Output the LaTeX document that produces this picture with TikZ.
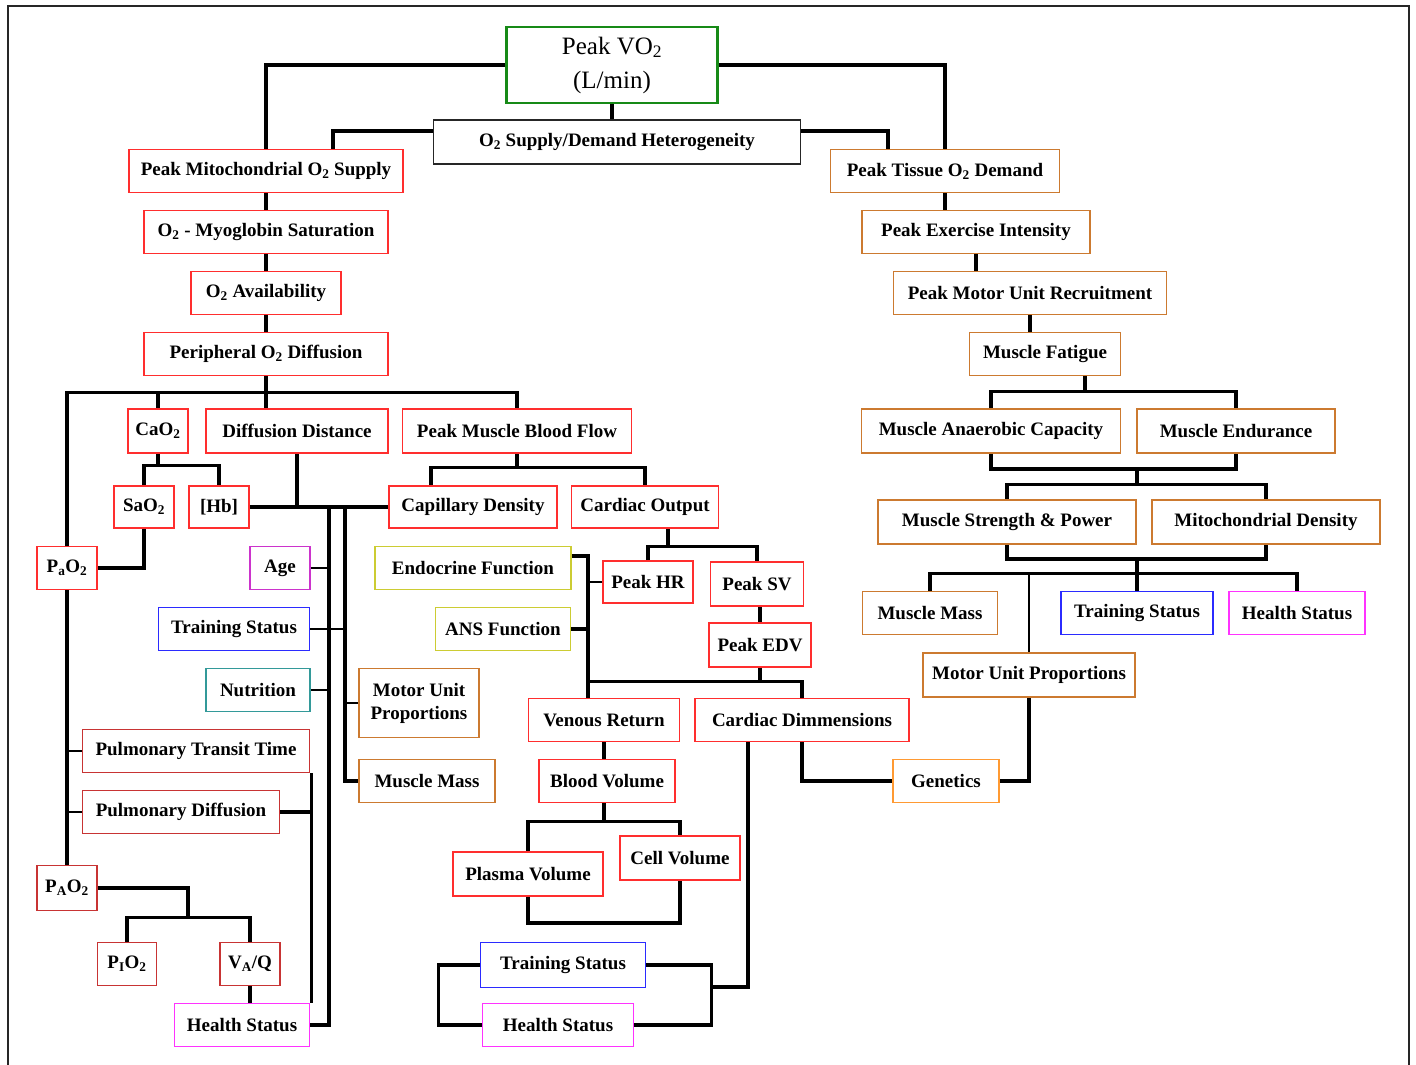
\documentclass[tikz,border=0pt]{standalone}
\usepackage{fontspec}
\setmainfont{Liberation Serif}
\usepackage{tikz}
\usetikzlibrary{positioning}
\definecolor{bred}{HTML}{FF2E2E}
\definecolor{dred}{HTML}{C83434}
\definecolor{borange}{HTML}{CC7A30}
\definecolor{gorange}{HTML}{FF9A33}
\definecolor{ggreen}{HTML}{178A17}
\definecolor{bblue}{HTML}{2B2BFF}
\definecolor{bmag}{HTML}{FF33FF}
\definecolor{bpurp}{HTML}{CC33CC}
\definecolor{bolive}{HTML}{CCCC33}
\definecolor{bteal}{HTML}{339999}
\newcommand{\lbl}{\fontsize{19}{21}\selectfont\bfseries}
\newcommand{\Otwo}{O\textsubscript{2}}

\begin{document}
\begin{tikzpicture}[x=1pt, y=-1pt,
  box/.style={draw, line width=1.8pt, inner sep=0pt, minimum height=43pt, font=\lbl, align=center},
  redbox/.style={box, draw=bred}, dredbox/.style={box, draw=dred},
  orgbox/.style={box, draw=borange}, genbox/.style={box, draw=gorange},
  bluebox/.style={box, draw=bblue}, magbox/.style={box, draw=bmag},
  purpbox/.style={box, draw=bpurp}, olivebox/.style={box, draw=bolive},
  tealbox/.style={box, draw=bteal},
  conn/.style={line width=3.2pt}, tick/.style={line width=1.4pt}]
\useasboundingbox (0,0) rectangle (1416,1065);
\draw[line width=2pt, black!85] (8,1065) -- (8,6) -- (1409,6) -- (1409,1065);

% top
\node[box, draw=ggreen, line width=2.8pt, minimum width=211pt, minimum height=76pt,
  font=\fontsize{25}{34}\selectfont] (vo2) at (612,65) {Peak VO\textsubscript{2}\\(L/min)};
\node[box, draw=black!85, line width=1.5pt, minimum width=367pt, minimum height=44pt] (sd) at (617,142) {\Otwo{} Supply/Demand Heterogeneity};

% supply side
\node[redbox, minimum width=274pt] (mito) at (266,171) {Peak Mitochondrial \Otwo{} Supply};
\node[redbox, minimum width=244pt] (myo) at (266,232) {\Otwo{} - Myoglobin Saturation};
\node[redbox, minimum width=150pt] (avail) at (266,293) {\Otwo{} Availability};
\node[redbox, minimum width=244pt] (perif) at (266,354) {Peripheral \Otwo{} Diffusion};
\node[redbox, minimum width=60pt, minimum height=44pt] (cao2) at (158,431) {CaO\textsubscript{2}};
\node[redbox, minimum width=182pt, minimum height=44pt] (diff) at (297,431) {Diffusion Distance};
\node[redbox, minimum width=229pt, minimum height=44pt] (pmbf) at (517,431) {Peak Muscle Blood Flow};
\node[redbox, minimum width=60pt, minimum height=42pt] (sao2) at (144,507) {SaO\textsubscript{2}};
\node[redbox, minimum width=60pt, minimum height=42pt] (hb) at (219,507) {[Hb]};
\node[redbox, minimum width=168pt, minimum height=42pt] (capd) at (473,507) {Capillary Density};
\node[redbox, minimum width=147pt, minimum height=42pt] (co) at (645,507) {Cardiac Output};
\node[redbox, minimum width=60pt] (pao2) at (67,568) {P\textsubscript{a}O\textsubscript{2}};
\node[purpbox, minimum width=60pt] (age) at (280,568) {Age};
\node[olivebox, minimum width=196pt] (endo) at (473,568) {Endocrine Function};
\node[redbox, minimum width=90pt, minimum height=42pt] (hr) at (648,582) {Peak HR};
\node[redbox, minimum width=93pt, minimum height=44pt] (sv) at (757,584) {Peak SV};
\node[bluebox, minimum width=151pt] (tsL) at (234,629) {Training Status};
\node[olivebox, minimum width=135pt] (ans) at (503,629) {ANS Function};
\node[redbox, minimum width=102pt, minimum height=44pt] (edv) at (760,645) {Peak EDV};
\node[tealbox, minimum width=104pt] (nutr) at (258,690) {Nutrition};
\node[orgbox, minimum width=120pt, minimum height=69pt, font=\fontsize{19}{23}\selectfont\bfseries] (mupL) at (419,703) {Motor Unit\\Proportions};
\node[redbox, minimum width=151pt] (vr) at (604,720) {Venous Return};
\node[redbox, minimum width=214pt] (cdim) at (802,720) {Cardiac Dimmensions};
\node[dredbox, minimum width=227pt] (ptt) at (196,751) {Pulmonary Transit Time};
\node[orgbox, minimum width=136pt] (mmL) at (427,781) {Muscle Mass};
\node[redbox, minimum width=136pt] (bv) at (607,781) {Blood Volume};
\node[genbox, minimum width=106pt] (gen) at (946,781) {Genetics};
\node[dredbox, minimum width=197pt] (pdiff) at (181,812) {Pulmonary Diffusion};
\node[redbox, minimum width=120pt, minimum height=44pt] (cv) at (680,858) {Cell Volume};
\node[redbox, minimum width=150pt, minimum height=44pt] (plv) at (528,874) {Plasma Volume};
\node[dredbox, minimum width=60pt, minimum height=45pt] (pAo2) at (67,888) {P\textsubscript{A}O\textsubscript{2}};
\node[dredbox, minimum width=59pt] (pio2) at (127,964) {P\textsubscript{I}O\textsubscript{2}};
\node[dredbox, minimum width=60pt] (vaq) at (250,964) {V\textsubscript{A}/Q};
\node[magbox, minimum width=135pt] (hsL) at (242,1025) {Health Status};
\node[bluebox, minimum width=165pt, minimum height=45pt] (tsM) at (563,965) {Training Status};
\node[magbox, minimum width=151pt] (hsM) at (558,1025) {Health Status};

% demand side
\node[orgbox, minimum width=229pt] (tissue) at (945,171) {Peak Tissue \Otwo{} Demand};
\node[orgbox, minimum width=228pt] (exer) at (976,232) {Peak Exercise Intensity};
\node[orgbox, minimum width=273pt] (pmur) at (1030,293) {Peak Motor Unit Recruitment};
\node[orgbox, minimum width=151pt] (fatig) at (1045,354) {Muscle Fatigue};
\node[orgbox, minimum width=259pt, minimum height=44pt] (anaer) at (991,431) {Muscle Anaerobic Capacity};
\node[orgbox, minimum width=198pt, minimum height=44pt] (endur) at (1236,431) {Muscle Endurance};
\node[orgbox, minimum width=258pt, minimum height=44pt] (stren) at (1007,522) {Muscle Strength \& Power};
\node[orgbox, minimum width=228pt, minimum height=44pt] (mitod) at (1266,522) {Mitochondrial Density};
\node[orgbox, minimum width=135pt] (mmR) at (930,613) {Muscle Mass};
\node[bluebox, minimum width=152pt] (tsR) at (1137,613) {Training Status};
\node[magbox, minimum width=136pt] (hsR) at (1297,613) {Health Status};
\node[orgbox, minimum width=212pt, minimum height=44pt] (mupR) at (1029,675) {Motor Unit Proportions};

% connectors, top
\draw[conn] (vo2.west) -| (mito.north);
\draw[conn] (vo2.east) -| (tissue.north);
\draw[conn] (vo2.south) -- (vo2.south |- sd.north);
\draw[conn] ([yshift=11pt]sd.west) -| ([xshift=67pt]mito.north);
\draw[conn] ([yshift=11pt]sd.east) -| ([xshift=-57pt]tissue.north);

% supply chain
\draw[conn] (mito.south) -- (myo.north);
\draw[conn] (myo.south) -- (avail.north);
\draw[conn] (avail.south) -- (perif.north);
\draw[conn] (perif.south) -- (perif.south |- diff.north);
\draw[conn] (pao2.north) |- ([yshift=16pt]pmbf.north) -- (pmbf.north);
\draw[conn] (cao2.north) -- ++(0,-16);
\draw[conn] (sao2.north) |- ([yshift=20pt]hb.north) coordinate (hbup) -- (hb.north);
\draw[conn] (cao2.south) -- (cao2.south |- hbup);
\draw[conn] (sao2.south) |- (pao2.east);
\draw[conn] (pao2.south) -- (pAo2.north);
\draw[tick] (ptt.west) -- (ptt.west -| pao2.south);
\draw[tick] (pdiff.west) -- (pdiff.west -| pao2.south);
\draw[conn] (hb.east) -- (capd.west);
\draw[conn] (diff.south) -- (diff.south |- hb.east);
\draw[conn] (hsL.east) -| ([xshift=79pt]hb.east);
\draw[conn] (mmL.west) -| ([xshift=95pt]hb.east);
\draw[tick] (age.east) -- ++(18,0);
\draw[tick] (tsL.east) -- ++(34,0);
\draw[tick] (nutr.east) -- ++(18,0);
\draw[tick] (mupL.west) -- ++(-15,0);
\draw[conn] ([xshift=1pt]ptt.south east) -- ([xshift=1pt]ptt.south east |- hsL.north);
\draw[conn] (pdiff.east) -- (pdiff.east -| ptt.east);
\draw[conn] (pio2.north) |- ([yshift=24pt]vaq.north) coordinate (vq) -- (vaq.north);
\draw[conn] (pAo2.east) -| ([xshift=-62pt]vq);
\draw[conn] (vaq.south) -- (vaq.south |- hsL.north);

% blood flow
\draw[conn] ([xshift=-42pt]capd.north) |- ([yshift=18pt]co.north) coordinate (cou) -- (co.north);
\draw[conn] (pmbf.south) -- (pmbf.south |- cou);
\draw[conn] (hr.north) |- ([yshift=15pt]sv.north) coordinate (svu) -- (sv.north);
\draw[conn] ([xshift=23pt]co.south) -- ++(0,18);
\draw[conn] (edv.north) -- (edv.north |- sv.south);
\draw[conn] ([yshift=12pt]endo.east) -| ([xshift=-16pt]vr.north);
\draw[conn] (ans.east) -- ++(17,0);
\draw[tick] (hr.west) -- ++(-15,0);
\draw[conn] ([xshift=-16pt]vr.north) |- ([yshift=16pt]cdim.north) coordinate (cdu) -- (cdim.north);
\draw[conn] (edv.south) -- (edv.south |- cdu);
\draw[conn] (vr.south) -- (vr.south |- bv.north);
\draw[conn] (plv.north) |- ([yshift=14pt]cv.north) coordinate (cvu) -- (cv.north);
\draw[conn] (vr.south |- bv.south) -- (vr.south |- cvu);
\draw[conn] (plv.south) |- ([yshift=-42pt]cv.south) -- (cv.south);
\draw[conn] (tsM.east) -| ([xshift=77pt]hsM.east) -- (hsM.east);
\draw[conn] ([xshift=-54pt]cdim.south) |- ([xshift=77pt,yshift=38pt]hsM.east);
\draw[conn] (tsM.west) -| ([xshift=-43pt]hsM.west) -- (hsM.west);
\draw[conn] (cdim.south) |- (gen.west);
\draw[conn] (gen.east) -| (mupR.south);

% demand chain
\draw[conn] (tissue.south) -- (tissue.south |- exer.north);
\draw[conn] (exer.south) -- (exer.south |- pmur.north);
\draw[conn] (pmur.south) -- (pmur.south |- fatig.north);
\draw[conn] (anaer.north) |- ([yshift=17pt]endur.north) -- (endur.north);
\draw[conn] ([xshift=40pt]fatig.south) -- ++(0,16);
\draw[conn] (anaer.south) |- ([yshift=-15pt]endur.south) -- (endur.south);
\draw[conn] ([xshift=-99pt,yshift=-15pt]endur.south) -- ++(0,17);
\draw[conn] (stren.north) |- ([yshift=15pt]mitod.north) -- (mitod.north);
\draw[conn] (stren.south) |- ([yshift=-14pt]mitod.south) -- (mitod.south);
\draw[conn] ([xshift=-129pt,yshift=-14pt]mitod.south) -- ++(0,17);
\draw[conn] (mmR.north) |- ([yshift=17pt]hsR.north) -- (hsR.north);
\draw[conn] (tsR.north) -- ++(0,-17);
\draw[tick] (mupR.north) -- ++(0,-78);
\end{tikzpicture}
\end{document}
